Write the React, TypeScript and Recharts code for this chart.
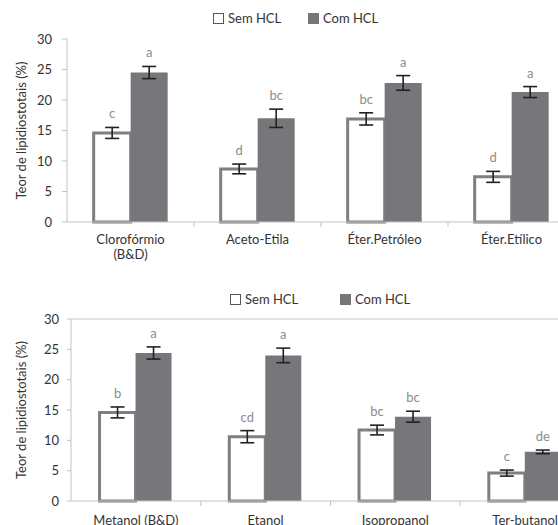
import React from 'react';
import { BarChart, Bar, XAxis, YAxis, ErrorBar, LabelList, Legend, ReferenceLine } from 'recharts';

// ---------- data ----------
const categoriesTop = ['Clorofórmio\n(B&D)', 'Aceto-Etila', 'Éter.Petróleo', 'Éter.Etílico'];
const semTop = [14.6, 8.7, 16.9, 7.4];
const semTopErr = [0.9, 0.8, 1.0, 0.9];
const comTop = [24.5, 17.0, 22.8, 21.3];
const comTopErr = [1.0, 1.5, 1.2, 0.9];
const semTopLetters = ['c', 'd', 'bc', 'd'];
const comTopLetters = ['a', 'bc', 'a', 'a'];

const categoriesBottom = ['Metanol (B&D)', 'Etanol', 'Isopropanol', 'Ter-butanol'];
const semBottom = [14.6, 10.6, 11.7, 4.6];
const semBottomErr = [0.9, 1.0, 0.8, 0.5];
const comBottom = [24.4, 24.0, 13.9, 8.1];
const comBottomErr = [1.0, 1.2, 0.9, 0.3];
const semBottomLetters = ['b', 'cd', 'bc', 'c'];
const comBottomLetters = ['a', 'a', 'bc', 'de'];

const yTicks = [0, 5, 10, 15, 20, 25, 30];
const seriesNames = ['Sem HCL', 'Com HCL'];
const yLabel = 'Teor de lipidiostotais (%)';

const buildRows = (
  cats: string[], sem: number[], semErr: number[], com: number[], comErr: number[]
) => cats.map((name, i) => ({ name, sem: sem[i], semErr: semErr[i], com: com[i], comErr: comErr[i] }));

const rowsTop = buildRows(categoriesTop, semTop, semTopErr, comTop, comTopErr);
const rowsBottom = buildRows(categoriesBottom, semBottom, semBottomErr, comBottom, comBottomErr);

// ---------- styles ----------
const FONT = 'Lato, "Open Sans", sans-serif';
const SEM_STROKE = '#7f7f7f';
const COM_FILL = '#77777b';
const AXIS = '#c3c3c3';
const TEXT = '#333333';
const LETTER = '#8c8c8c';

function CatTick(props: any) {
  const { x, y, payload, dyFirst, bandHalf } = props;
  const lines = String(payload.value).split('\n');
  const half = bandHalf;
  return (
    <g>
      <line x1={x + half} x2={x + half} y1={y} y2={y + 5} stroke={AXIS} />
      <text x={x} y={y + dyFirst} textAnchor="middle" fontFamily={FONT} fontSize={13} fill={TEXT}>
        {lines.map((l, i) => (
          <tspan key={i} x={x} dy={i === 0 ? 0 : 15}>{l}</tspan>
        ))}
      </text>
    </g>
  );
}

const letterContent = (letters: string[], errs: number[]) => (p: any) => {
  const { x, y, width, height, index, value } = p;
  const v = Number(value);
  const pxPer = v ? Number(height) / v : 0;
  const top = Number(y) - errs[index] * pxPer;
  return (
    <text x={Number(x) + Number(width) / 2} y={top - 9} textAnchor="middle" fontFamily={FONT} fontSize={13} fill={LETTER}>
      {letters[index]}
    </text>
  );
};

const yLabelContent = (p: any) => {
  const vb = p.viewBox || {};
  const cy = (vb.y || 0) + (vb.height || 0) / 2;
  const cx = 21;
  return (
    <text x={cx} y={cy} transform={`rotate(-90, ${cx}, ${cy})`} textAnchor="middle" dominantBaseline="central"
      fontFamily={FONT} fontSize={13} fill={TEXT}>
      {yLabel}
    </text>
  );
};

function LegendBox({ height, semX, comX, cy }: { height: number; semX: number; comX: number; cy: number }) {
  const sq = 11;
  const itemStyle: React.CSSProperties = {
    position: 'absolute', top: cy - 9, height: 18, lineHeight: '18px', fontFamily: FONT, fontSize: 13,
    color: TEXT, whiteSpace: 'nowrap',
  };
  return (
    <div style={{ position: 'relative', height, width: '100%' }}>
      <div style={{ position: 'absolute', left: semX, top: cy - sq / 2, width: sq - 2, height: sq - 2, border: '1px solid #555', background: '#fff' }} />
      <div style={{ ...itemStyle, left: semX + 15 }}>{seriesNames[0]}</div>
      <div style={{ position: 'absolute', left: comX, top: cy - sq / 2, width: sq, height: sq, background: COM_FILL }} />
      <div style={{ ...itemStyle, left: comX + 15 }}>{seriesNames[1]}</div>
    </div>
  );
}

function Panel(props: {
  rows: any[]; width: number; height: number; yWidth: number; tickMargin: number; tickSize: number;
  legendHeight: number; legendSemX: number; legendComX: number; legendCy: number;
  xHeight: number; bottomMargin: number; band: number; dyFirst: number; gap: string;
  semLetters: string[]; comLetters: string[]; semErrs: number[]; comErrs: number[]; topLine: boolean;
}) {
  const p = props;
  return (
    <BarChart width={p.width} height={p.height} data={p.rows}
      margin={{ top: 0, right: 5, bottom: p.bottomMargin, left: 0 }}
      barGap={0} barCategoryGap={p.gap}>
      <Legend verticalAlign="top" wrapperStyle={{ left: 0, top: 0, width: p.width }}
        content={() => <LegendBox height={p.legendHeight} semX={p.legendSemX} comX={p.legendComX} cy={p.legendCy} />} />
      <XAxis dataKey="name" height={p.xHeight} tickSize={0} tickMargin={0} axisLine={{ stroke: AXIS }} tickLine={false}
        interval={0} tick={(tp: any) => <CatTick {...tp} dyFirst={p.dyFirst} bandHalf={p.band / 2} />} />
      <YAxis width={p.yWidth} domain={[0, 30]} ticks={yTicks} interval={0} tickSize={p.tickSize} tickMargin={p.tickMargin}
        axisLine={{ stroke: AXIS }} tickLine={{ stroke: AXIS }}
        tick={{ fontFamily: FONT, fontSize: 13, fill: TEXT }}
        label={{ content: yLabelContent }} />
      {p.topLine && <ReferenceLine y={30} stroke={AXIS} strokeWidth={1} />}
      <Bar dataKey="sem" name={seriesNames[0]} fill="#ffffff" stroke={SEM_STROKE} strokeWidth={3} isAnimationActive={false}>
        <ErrorBar dataKey="semErr" width={7} strokeWidth={1.6} stroke="#222" direction="y" />
        <LabelList dataKey="sem" content={letterContent(p.semLetters, p.semErrs)} />
      </Bar>
      <Bar dataKey="com" name={seriesNames[1]} fill={COM_FILL} isAnimationActive={false}>
        <ErrorBar dataKey="comErr" width={7} strokeWidth={1.6} stroke="#222" direction="y" />
        <LabelList dataKey="com" content={letterContent(p.comLetters, p.comErrs)} />
      </Bar>
    </BarChart>
  );
}

export default function App() {
  return (
    <div style={{ position: 'fixed', left: 0, top: 0, width: 558, height: 525, overflow: 'hidden', background: '#fff' }}>
      <div style={{ position: 'absolute', left: 0, top: 0 }}>
        <Panel rows={rowsTop} width={580} height={270} yWidth={67} tickMargin={10} tickSize={5}
          legendHeight={39} legendSemX={213} legendComX={308} legendCy={18}
          xHeight={45} bottomMargin={3} band={127} dyFirst={22} gap="21%"
          semLetters={semTopLetters} comLetters={comTopLetters} semErrs={semTopErr} comErrs={comTopErr} topLine={false} />
      </div>
      <div style={{ position: 'absolute', left: 0, top: 270 }}>
        <Panel rows={rowsBottom} width={595} height={262} yWidth={71} tickMargin={8} tickSize={4}
          legendHeight={49} legendSemX={230} legendComX={340} legendCy={29}
          xHeight={30} bottomMargin={1} band={129.75} dyFirst={23.5} gap="22%"
          semLetters={semBottomLetters} comLetters={comBottomLetters} semErrs={semBottomErr} comErrs={comBottomErr} topLine={true} />
      </div>
    </div>
  );
}
